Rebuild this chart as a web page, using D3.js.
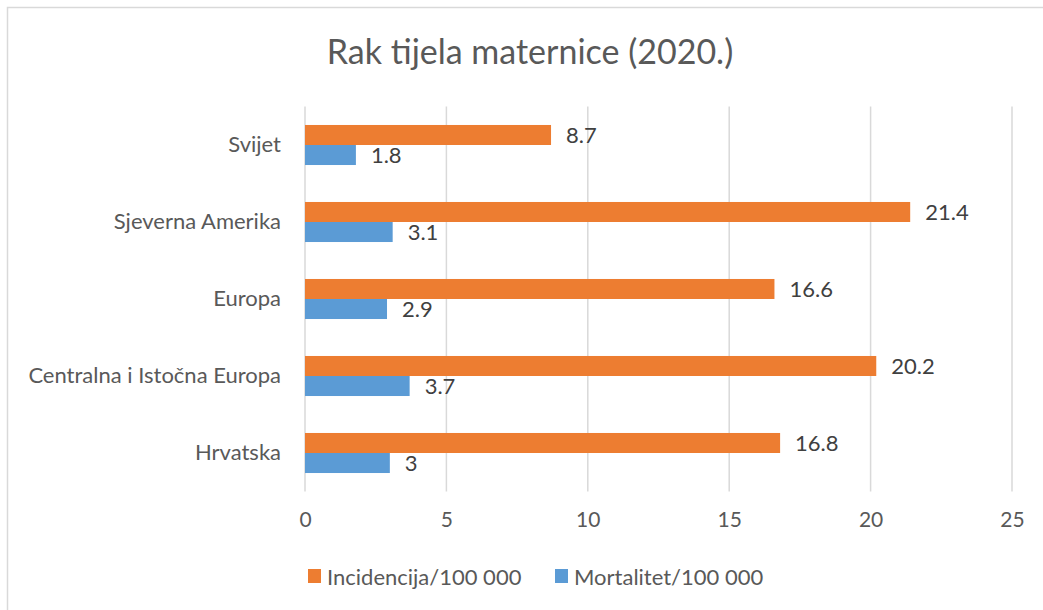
<!DOCTYPE html>
<html>
<head>
  <meta charset="utf-8">
  <title>Rak tijela maternice</title>
  <style>
    * { padding: 0; margin: 0; }
    body { background: #fff; }
    svg { display: block; font-family: Lato, "Open Sans", sans-serif; }
  </style>
</head>
<body>
  <svg id="svg"></svg>
  <script src="https://cdnjs.cloudflare.com/ajax/libs/d3/7.8.5/d3.min.js"></script>
  <script>
    const categories = ['Svijet', 'Sjeverna Amerika', 'Europa', 'Centralna i Istočna Europa', 'Hrvatska'];
    const series = ['Incidencija/100 000', 'Mortalitet/100 000'];
    const incidencija = [8.7, 21.4, 16.6, 20.2, 16.8];
    const mortalitet = [1.8, 3.1, 2.9, 3.7, 3];
    const xTicks = [0, 5, 10, 15, 20, 25];

    const width = 1043, height = 610;
    const plot = { left: 305, right: 1012, top: 106.5, bottom: 491.5 };
    const colors = ['#ED7D31', '#5B9BD5'];
    const textColor = '#595959';

    const svg = d3.select('#svg').attr('width', width).attr('height', height);

    // chart border
    svg.append('rect')
      .attr('x', 7.5).attr('y', 7.5)
      .attr('width', width).attr('height', height)
      .attr('fill', 'none').attr('stroke', '#D9D9D9').attr('stroke-width', 1.5);

    svg.append('text')
      .attr('x', 530).attr('y', 55)
      .attr('text-anchor', 'middle').attr('dominant-baseline', 'middle')
      .attr('fill', textColor).style('font-size', '34px')
      .text('Rak tijela maternice (2020.)');

    const x = d3.scaleLinear().domain([0, 25]).range([plot.left, plot.right]);
    const y = d3.scaleBand().domain(categories).range([plot.top, plot.bottom]).paddingInner(0.48).paddingOuter(0.24);
    const sub = d3.scaleBand().domain(series).range([0, y.bandwidth()]);

    // gridlines
    svg.append('g')
      .selectAll('line')
      .data(xTicks)
      .enter()
      .append('line')
      .attr('x1', d => x(d)).attr('x2', d => x(d))
      .attr('y1', plot.top).attr('y2', plot.bottom)
      .attr('stroke', '#D9D9D9').attr('stroke-width', 1.5);

    const xAxis = d3.axisBottom(x).tickValues(xTicks).tickSize(0).tickPadding(21);
    const gx = svg.append('g')
      .attr('transform', `translate(0, ${plot.bottom})`)
      .call(xAxis);
    gx.select('.domain').remove();
    gx.selectAll('text').attr('fill', textColor).style('font-size', '21px').style('font-family', 'Lato, sans-serif');

    const yAxis = d3.axisLeft(y).tickSize(0).tickPadding(24);
    const gy = svg.append('g')
      .attr('transform', `translate(${plot.left}, 0)`)
      .call(yAxis);
    gy.select('.domain').remove();
    gy.selectAll('text').attr('fill', textColor).style('font-size', '22px').style('font-family', 'Lato, sans-serif');

    const rows = categories.map((c, i) => ({ cat: c, values: [incidencija[i], mortalitet[i]] }));

    const groups = svg.append('g')
      .selectAll('g')
      .data(rows)
      .enter()
      .append('g')
      .attr('transform', d => `translate(0, ${y(d.cat)})`);

    groups.selectAll('rect')
      .data(d => d.values.map((v, j) => ({ s: series[j], v: v, j: j })))
      .enter()
      .append('rect')
      .attr('x', x(0))
      .attr('y', d => sub(d.s))
      .attr('width', d => x(d.v) - x(0))
      .attr('height', sub.bandwidth())
      .attr('fill', d => colors[d.j]);

    groups.selectAll('text')
      .data(d => d.values.map((v, j) => ({ s: series[j], v: v })))
      .enter()
      .append('text')
      .attr('x', d => x(d.v) + 15)
      .attr('y', d => sub(d.s) + sub.bandwidth() / 2)
      .attr('dominant-baseline', 'central')
      .attr('fill', '#404040')
      .style('font-size', '22px')
      .text(d => d.v);

    // legend
    const legend = svg.append('g').attr('transform', 'translate(308, 576)');
    const lx = [0, 247];
    series.forEach((s, i) => {
      legend.append('rect')
        .attr('x', lx[i]).attr('y', -7)
        .attr('width', 13).attr('height', 14)
        .attr('fill', colors[i]);
      legend.append('text')
        .attr('x', lx[i] + 19).attr('y', 0)
        .attr('dominant-baseline', 'central')
        .attr('fill', textColor)
        .style('font-size', '22px')
        .text(s);
    });
  </script>
</body>
</html>
